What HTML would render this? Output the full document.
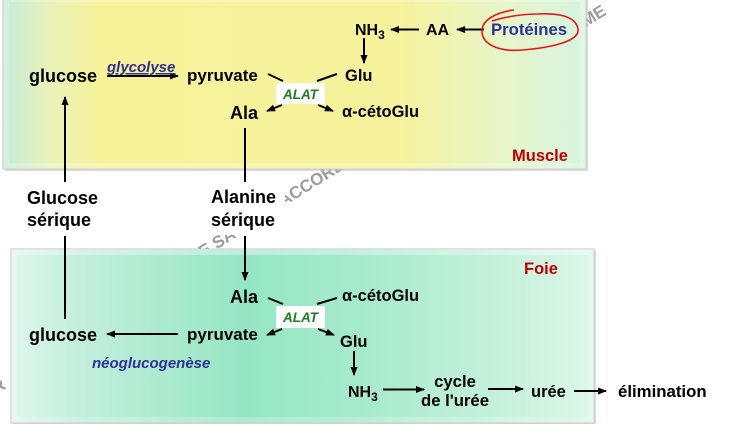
<!DOCTYPE html>
<html><head><meta charset="utf-8"><style>
html,body{margin:0;padding:0;background:#fff;width:732px;height:424px;overflow:hidden}
svg{display:block}
text{font-family:"Liberation Sans",Arial,sans-serif;font-weight:bold}
</style></head><body>
<svg width="732" height="424" viewBox="0 0 732 424" xmlns="http://www.w3.org/2000/svg">
<defs>
 <marker id="ah" markerWidth="9" markerHeight="8" refX="8" refY="4" orient="auto" markerUnits="userSpaceOnUse">
  <path d="M0,0.5 L9,4 L0,7.5 z" fill="#000"/>
 </marker>
 <linearGradient id="gm" x1="0" y1="0" x2="1" y2="0">
  <stop offset="0" stop-color="#c6ebdc"/>
  <stop offset="0.08" stop-color="#e9f2b8"/>
  <stop offset="0.17" stop-color="#f7f29a"/>
  <stop offset="0.68" stop-color="#f6f29c"/>
  <stop offset="0.87" stop-color="#e6f5cb"/>
  <stop offset="1" stop-color="#d6f4e0"/>
 </linearGradient>
 <linearGradient id="gf" x1="0" y1="0" x2="1" y2="0">
  <stop offset="0" stop-color="#dff6ed"/>
  <stop offset="0.1" stop-color="#c6efdd"/>
  <stop offset="0.4" stop-color="#95e6c4"/>
  <stop offset="0.6" stop-color="#a6eacc"/>
  <stop offset="0.85" stop-color="#c8f1dc"/>
  <stop offset="1" stop-color="#dcf7e9"/>
 </linearGradient>
</defs>

<!-- watermark -->
<g fill="#9c9c9c" font-size="17">
 <text transform="translate(283,207) rotate(-32)">ACCORD</text>
 <text transform="translate(203,258) rotate(-32)">E SA</text>
 <text transform="translate(572,36) rotate(-32)">E ME</text>
 <text transform="translate(-14,401) rotate(-32)">RR</text>
</g>

<!-- Muscle box -->
<rect x="5" y="-2" width="583" height="173" fill="#bdbdbd" opacity="0.5"/>
<rect x="3" y="-4" width="583" height="173" fill="url(#gm)" stroke="#c2c2c2" stroke-width="1"/>
<polygon points="3,-4 586,-4 580,2 9,2" fill="#fff" opacity="0.3"/>
<polygon points="3,-4 9,2 9,163 3,169" fill="#fff" opacity="0.22"/>
<polygon points="586,-4 586,169 580,163 580,2" fill="#fff" opacity="0.25"/>
<polygon points="3,169 586,169 580,163 9,163" fill="#fff" opacity="0.22"/>

<!-- Foie box -->
<rect x="13" y="251" width="583" height="174" fill="#bdbdbd" opacity="0.5"/>
<rect x="11" y="249" width="583" height="174" fill="url(#gf)" stroke="#c2c2c2" stroke-width="1"/>
<polygon points="11,249 594,249 588,255 17,255" fill="#fff" opacity="0.35"/>
<polygon points="11,249 17,255 17,417 11,423" fill="#fff" opacity="0.25"/>
<polygon points="594,249 594,423 588,417 588,255" fill="#fff" opacity="0.25"/>
<polygon points="11,423 594,423 588,417 17,417" fill="#fff" opacity="0.22"/>

<!-- white label backgrounds -->
<rect x="20" y="184" width="88" height="50" fill="#fff"/>
<rect x="205" y="183" width="80" height="52" fill="#fff"/>

<g stroke="#000" stroke-width="2" fill="none">
 <!-- top -->
 <line x1="107" y1="76" x2="178" y2="76" marker-end="url(#ah)"/>
 <line x1="419" y1="29.5" x2="391" y2="29.5" marker-end="url(#ah)"/>
 <line x1="484" y1="29.5" x2="457" y2="29.5" marker-end="url(#ah)"/>
 <line x1="364" y1="38" x2="364" y2="63" marker-end="url(#ah)"/>
 <line x1="268" y1="74" x2="283" y2="81"/>
 <line x1="337" y1="74" x2="317" y2="81"/>
 <line x1="282" y1="105" x2="267" y2="111" marker-end="url(#ah)"/>
 <line x1="318" y1="105" x2="333" y2="111" marker-end="url(#ah)"/>
 <line x1="65" y1="182" x2="65" y2="97" marker-end="url(#ah)"/>
 <line x1="245" y1="128" x2="245" y2="182"/>
 <line x1="65" y1="236" x2="65" y2="319"/>
 <line x1="245" y1="236" x2="245" y2="280" marker-end="url(#ah)"/>
 <!-- bottom -->
 <line x1="268" y1="298" x2="283" y2="304"/>
 <line x1="337" y1="298" x2="317" y2="304"/>
 <line x1="282" y1="329" x2="267" y2="335" marker-end="url(#ah)"/>
 <line x1="318" y1="329" x2="334" y2="335" marker-end="url(#ah)"/>
 <line x1="178" y1="334" x2="107" y2="334" marker-end="url(#ah)"/>
 <line x1="354" y1="351" x2="354" y2="375" marker-end="url(#ah)"/>
 <line x1="383" y1="389.5" x2="424" y2="389.5" marker-end="url(#ah)"/>
 <line x1="488" y1="389" x2="523" y2="389" marker-end="url(#ah)"/>
 <line x1="574" y1="391" x2="606" y2="391" marker-end="url(#ah)"/>
</g>

<!-- red loop -->
<path d="M514,10 C498,12 482,19 482,31 C482,45 500,52 522,50 C548,48 580,42 578,29 C576,17 560,13 538,14 C522,14 504,17 492,21" fill="none" stroke="#e8161b" stroke-width="1.6"/>

<!-- ALAT boxes -->
<rect x="276" y="83" width="49" height="21" fill="#fff"/>
<rect x="276" y="306" width="49" height="22" fill="#fff"/>
<text x="300.5" y="99" font-size="13.5" font-style="italic" fill="#1f7d20" text-anchor="middle">ALAT</text>
<text x="300.5" y="322" font-size="13.5" font-style="italic" fill="#1f7d20" text-anchor="middle">ALAT</text>

<!-- top labels -->
<text x="29" y="82" font-size="18">glucose</text>
<text x="107" y="72" font-size="15" font-style="italic" fill="#2e3192" text-decoration="underline">glycolyse</text>
<text x="187" y="81" font-size="17">pyruvate</text>
<text x="345" y="81" font-size="16.5">Glu</text>
<text x="355" y="35" font-size="16">NH<tspan font-size="12" dy="4">3</tspan></text>
<text x="426" y="35" font-size="16">AA</text>
<text x="491" y="35" font-size="16.7" fill="#2e3192">Protéines</text>
<text x="230" y="119" font-size="18">Ala</text>
<text x="342" y="117" font-size="16.5">α-cétoGlu</text>
<text x="512" y="161" font-size="16.5" fill="#c00000">Muscle</text>

<!-- middle -->
<text x="27" y="204" font-size="18">Glucose</text>
<text x="27" y="226" font-size="18">sérique</text>
<text x="211" y="203" font-size="18">Alanine</text>
<text x="211" y="226" font-size="18">sérique</text>

<!-- bottom labels -->
<text x="524" y="274" font-size="16.5" fill="#c00000">Foie</text>
<text x="230" y="303" font-size="18">Ala</text>
<text x="342" y="301" font-size="16.5">α-cétoGlu</text>
<text x="29" y="341" font-size="18">glucose</text>
<text x="187" y="340" font-size="17">pyruvate</text>
<text x="340" y="347" font-size="16.5">Glu</text>
<text x="92" y="368" font-size="15" font-style="italic" fill="#2e3192">néoglucogenèse</text>
<text x="348" y="397" font-size="16">NH<tspan font-size="12" dy="4">3</tspan></text>
<text x="455" y="387" font-size="16.7" text-anchor="middle">cycle</text>
<text x="455" y="406" font-size="16.7" text-anchor="middle">de l'urée</text>
<text x="531" y="397" font-size="16.5">urée</text>
<text x="618" y="397" font-size="16.8">élimination</text>
</svg>
</body></html>
